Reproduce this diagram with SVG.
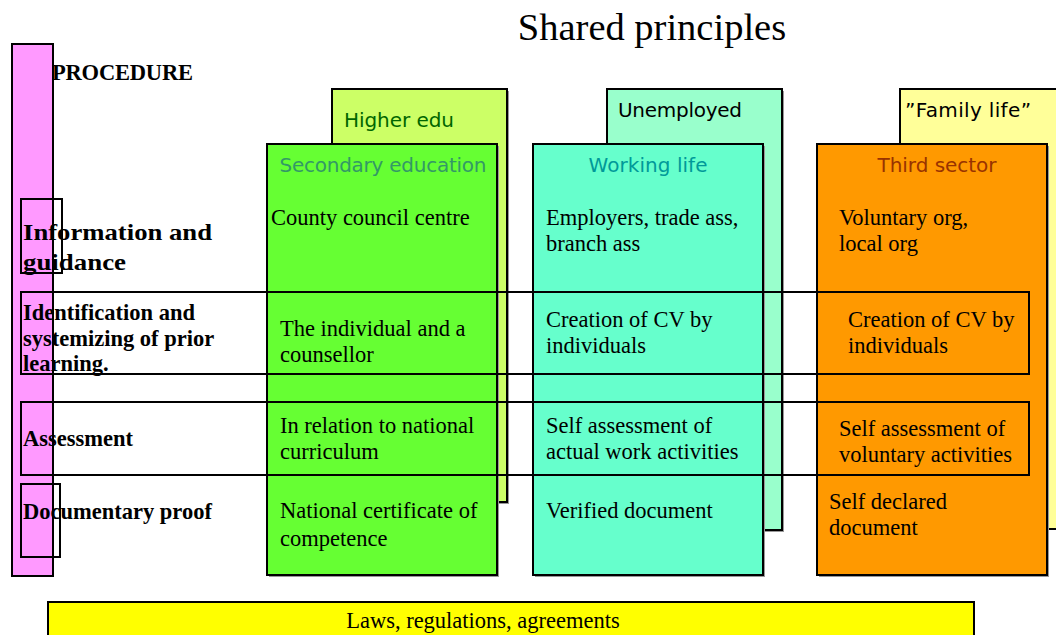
<svg xmlns="http://www.w3.org/2000/svg" width="1056" height="635" viewBox="0 0 1056 635">
<style>
.box{stroke:#000;stroke-width:2}
.frame{fill:none;stroke:#000;stroke-width:2}
.shadow{fill:#999}
.body{font-family:"Liberation Serif","Times New Roman",serif;font-size:22.5px;fill:#000}
.proc{font-family:"Liberation Serif","Times New Roman",serif;font-weight:bold;font-size:22.5px;fill:#000}
.head{font-family:"DejaVu Sans",Tahoma,sans-serif;font-size:20px}
</style>
<rect width="1056" height="635" fill="#fff"/>
<text x="652" y="40" text-anchor="middle" font-family="Liberation Serif, serif" font-size="38.5">Shared principles</text>

<g id="higher-edu">
<rect class="shadow" x="334" y="91" width="175" height="413"/>
<rect class="box" x="332" y="89" width="175" height="413" fill="#CCFF66"/>
<text class="head" x="344" y="127" fill="#006600" textLength="110">Higher edu</text>
</g>
<g id="unemployed">
<rect class="shadow" x="609" y="91" width="175" height="441"/>
<rect class="box" x="607" y="89" width="175" height="441" fill="#99FFCC"/>
<text class="head" x="618" y="117" fill="#000" textLength="124">Unemployed</text>
</g>
<g id="family-life">
<rect class="box" x="900" y="89" width="170" height="440" fill="#FFFF99"/>
<text class="head" x="905" y="117" fill="#000" textLength="126">”Family life”</text>
</g>

<g id="procedure">
<rect class="box" x="12" y="44" width="41" height="532" fill="#FF99FF"/>
<text class="proc" x="52" y="80" font-size="23" textLength="141">PROCEDURE</text>
</g>

<g id="secondary-education">
<rect class="shadow" x="269" y="146" width="230" height="431"/>
<rect class="box" x="267" y="144" width="230" height="431" fill="#66FF33"/>
<text class="head" x="383" y="172" text-anchor="middle" fill="#339966" textLength="207">Secondary education</text>
<text class="body" x="271" y="225">County council centre</text>
<text class="body" x="280" y="336">The individual and a</text>
<text class="body" x="280" y="362">counsellor</text>
<text class="body" x="280" y="433">In relation to national</text>
<text class="body" x="280" y="459">curriculum</text>
<text class="body" x="280" y="518">National certificate of</text>
<text class="body" x="280" y="546">competence</text>
</g>

<g id="working-life">
<rect class="shadow" x="535" y="146" width="230" height="431"/>
<rect class="box" x="533" y="144" width="230" height="431" fill="#66FFCC"/>
<text class="head" x="648" y="172" text-anchor="middle" fill="#009999" textLength="119">Working life</text>
<text class="body" x="546" y="225">Employers, trade ass,</text>
<text class="body" x="546" y="251">branch ass</text>
<text class="body" x="546" y="327">Creation of CV by</text>
<text class="body" x="546" y="353">individuals</text>
<text class="body" x="546" y="433">Self assessment of</text>
<text class="body" x="546" y="459">actual work activities</text>
<text class="body" x="546" y="518">Verified document</text>
</g>

<g id="third-sector">
<rect class="shadow" x="819" y="146" width="230" height="431"/>
<rect class="box" x="817" y="144" width="230" height="431" fill="#FF9900"/>
<text class="head" x="937" y="172" text-anchor="middle" fill="#993300" textLength="119">Third sector</text>
<text class="body" x="839" y="225">Voluntary org,</text>
<text class="body" x="839" y="251">local org</text>
<text class="body" x="848" y="327">Creation of CV by</text>
<text class="body" x="848" y="353">individuals</text>
<text class="body" x="839" y="436">Self assessment of</text>
<text class="body" x="839" y="462">voluntary activities</text>
<text class="body" x="829" y="509">Self declared</text>
<text class="body" x="829" y="535">document</text>
</g>

<g id="rows">
<rect class="frame" x="21" y="199" width="41" height="74"/>
<rect class="frame" x="21" y="292" width="1008" height="82"/>
<rect class="frame" x="21" y="402" width="1008" height="73"/>
<rect class="frame" x="21" y="484" width="39" height="73"/>
</g>

<g id="row-labels">
<text class="proc" x="23" y="240" font-size="27" textLength="189" lengthAdjust="spacingAndGlyphs">Information and</text>
<text class="proc" x="23" y="270" font-size="27" textLength="103" lengthAdjust="spacingAndGlyphs">guidance</text>
<text class="proc" x="23" y="320">Identification and</text>
<text class="proc" x="23" y="346">systemizing of prior</text>
<text class="proc" x="23" y="371">learning.</text>
<text class="proc" x="23" y="446">Assessment</text>
<text class="proc" x="23" y="519">Documentary proof</text>
</g>

<g id="laws">
<rect class="box" x="48" y="602" width="926" height="40" fill="#FFFF00"/>
<text class="body" x="483" y="628" text-anchor="middle" font-size="21.5">Laws, regulations, agreements</text>
</g>
</svg>
